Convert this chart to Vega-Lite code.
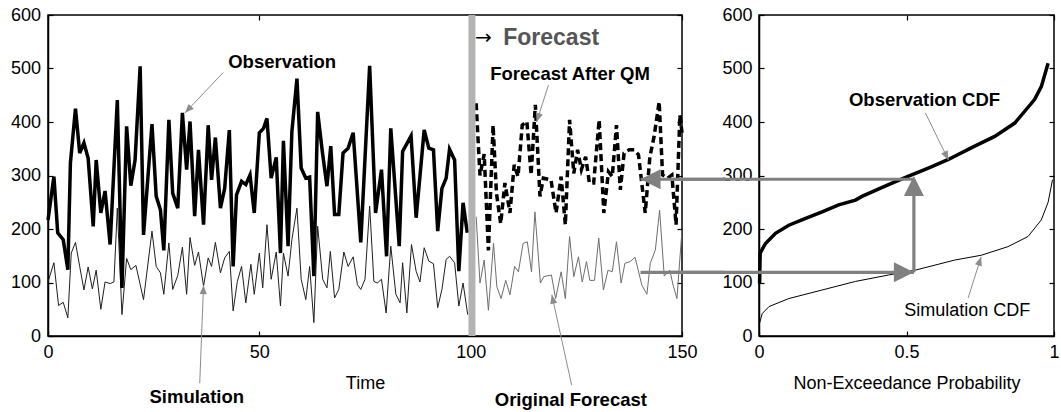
{
  "$schema": "https://vega.github.io/schema/vega-lite/v6.json",
  "background": "white",
  "padding": {"left": 9, "top": 5, "right": 0, "bottom": 0},
  "bounds": "flush",
  "spacing": 77,
  "config": {
    "view": {"stroke": "black", "strokeWidth": 1.5},
    "axis": {"domainColor": "black", "domainWidth": 1.5, "tickColor": "black", "tickWidth": 1.2, "tickSize": -5, "labelFont": "Liberation Sans", "labelFontSize": 18, "labelColor": "black", "titleFont": "Liberation Sans", "titleFontSize": 18, "titleFontWeight": "normal", "titleColor": "black", "grid": false, "labelFlush": false, "labelOverlap": false},
    "text": {"font": "Liberation Sans"}
  },
  "datasets": {
    "obs": [
      {"t":0,"v":217},{"t":1.4,"v":298},{"t":2.3,"v":193},{"t":3.6,"v":180},{"t":4.7,"v":124},{"t":5.3,"v":323},{"t":6.5,"v":425},{"t":7.5,"v":342},{"t":8.5,"v":361},{"t":9.5,"v":332},{"t":10.7,"v":205},{"t":11.4,"v":329},{"t":12.5,"v":230},{"t":13.5,"v":271},{"t":14.7,"v":171},{"t":16.4,"v":441},{"t":17.5,"v":90},{"t":18.6,"v":392},{"t":19.6,"v":281},{"t":20.6,"v":329},{"t":21.8,"v":504},{"t":22.6,"v":189},{"t":24.6,"v":396},{"t":25.6,"v":261},{"t":26.6,"v":236},{"t":27.4,"v":160},{"t":28.6,"v":404},{"t":29.5,"v":267},{"t":30.7,"v":239},{"t":31.8,"v":417},{"t":32.8,"v":311},{"t":33.6,"v":401},{"t":34.7,"v":224},{"t":35.6,"v":348},{"t":36.8,"v":208},{"t":37.9,"v":394},{"t":38.7,"v":292},{"t":39.6,"v":371},{"t":40.8,"v":239},{"t":41.8,"v":276},{"t":42.9,"v":385},{"t":43.8,"v":130},{"t":44.6,"v":264},{"t":45.8,"v":289},{"t":46.8,"v":283},{"t":47.8,"v":301},{"t":48.8,"v":230},{"t":50,"v":380},{"t":51,"v":388},{"t":51.8,"v":407},{"t":52.8,"v":295},{"t":54,"v":334},{"t":55,"v":155},{"t":55.7,"v":365},{"t":56.8,"v":168},{"t":57.7,"v":382},{"t":58.9,"v":481},{"t":59.9,"v":314},{"t":61,"v":295},{"t":61.9,"v":297},{"t":62.9,"v":112},{"t":63.8,"v":419},{"t":64.9,"v":345},{"t":66,"v":280},{"t":66.9,"v":355},{"t":67.8,"v":227},{"t":68.8,"v":227},{"t":69.8,"v":342},{"t":71,"v":351},{"t":72.2,"v":380},{"t":74,"v":175},{"t":76.1,"v":505},{"t":77.5,"v":230},{"t":78.9,"v":311},{"t":80.1,"v":149},{"t":81.1,"v":388},{"t":83.1,"v":168},{"t":83.9,"v":345},{"t":85.9,"v":374},{"t":87.1,"v":221},{"t":89,"v":385},{"t":90.1,"v":351},{"t":91.2,"v":348},{"t":92.2,"v":196},{"t":93.2,"v":276},{"t":94.2,"v":295},{"t":95,"v":349},{"t":96.2,"v":329},{"t":97.2,"v":121},{"t":98.2,"v":249},{"t":99.2,"v":193}
    ],
    "sim": [
      {"t":0,"v":101},{"t":1.4,"v":137},{"t":2.5,"v":57},{"t":3.6,"v":63},{"t":4.7,"v":34},{"t":5.5,"v":155},{"t":6.5,"v":175},{"t":7.5,"v":130},{"t":8.5,"v":86},{"t":9.5,"v":129},{"t":10.5,"v":88},{"t":11.4,"v":123},{"t":12.5,"v":50},{"t":13.5,"v":101},{"t":14.7,"v":98},{"t":15.6,"v":101},{"t":16.4,"v":239},{"t":17.5,"v":40},{"t":18.6,"v":145},{"t":19.6,"v":124},{"t":20.8,"v":132},{"t":22.6,"v":68},{"t":24.6,"v":196},{"t":25.6,"v":130},{"t":26.6,"v":118},{"t":27.4,"v":78},{"t":28.6,"v":174},{"t":29.5,"v":87},{"t":30.7,"v":113},{"t":31.8,"v":166},{"t":32.8,"v":78},{"t":33.6,"v":184},{"t":34.7,"v":132},{"t":35.6,"v":157},{"t":36.8,"v":93},{"t":37.9,"v":146},{"t":38.7,"v":130},{"t":39.6,"v":175},{"t":40.8,"v":118},{"t":41.8,"v":146},{"t":42.9,"v":158},{"t":43.8,"v":47},{"t":44.8,"v":102},{"t":45.8,"v":130},{"t":46.8,"v":62},{"t":48,"v":134},{"t":48.8,"v":78},{"t":50,"v":155},{"t":50.8,"v":90},{"t":51.8,"v":208},{"t":52.8,"v":106},{"t":54,"v":157},{"t":55,"v":56},{"t":55.7,"v":155},{"t":56.8,"v":112},{"t":57.7,"v":180},{"t":58.9,"v":239},{"t":59.9,"v":106},{"t":61,"v":68},{"t":61.9,"v":130},{"t":62.9,"v":25},{"t":63.8,"v":205},{"t":65,"v":106},{"t":66,"v":90},{"t":66.8,"v":158},{"t":67.8,"v":71},{"t":68.8,"v":87},{"t":70,"v":157},{"t":71,"v":130},{"t":72.2,"v":148},{"t":73.2,"v":96},{"t":74,"v":87},{"t":75,"v":106},{"t":76.1,"v":243},{"t":77.1,"v":102},{"t":77.9,"v":99},{"t":78.9,"v":106},{"t":80,"v":43},{"t":81.1,"v":168},{"t":82.3,"v":78},{"t":83.3,"v":62},{"t":83.9,"v":137},{"t":84.9,"v":43},{"t":86,"v":171},{"t":87.1,"v":121},{"t":88,"v":101},{"t":89,"v":165},{"t":90.1,"v":140},{"t":91.2,"v":135},{"t":92.2,"v":53},{"t":93.2,"v":87},{"t":94.2,"v":143},{"t":95,"v":149},{"t":96.2,"v":137},{"t":97.2,"v":56},{"t":98.2,"v":99},{"t":99.3,"v":40}
    ],
    "fc": [
      {"t":101.3,"v":223},{"t":102.2,"v":99},{"t":103.2,"v":142},{"t":104.2,"v":48},{"t":105.4,"v":173},{"t":106.2,"v":92},{"t":107.2,"v":70},{"t":108.3,"v":104},{"t":109.3,"v":77},{"t":110.4,"v":130},{"t":111.3,"v":120},{"t":112.4,"v":173},{"t":113.4,"v":176},{"t":114.4,"v":120},{"t":115.2,"v":232},{"t":116.5,"v":99},{"t":117.3,"v":111},{"t":119.1,"v":114},{"t":120.1,"v":70},{"t":121.4,"v":120},{"t":122.4,"v":70},{"t":123.4,"v":186},{"t":124.4,"v":111},{"t":125.5,"v":148},{"t":126.4,"v":101},{"t":127.4,"v":139},{"t":128.2,"v":104},{"t":129.3,"v":104},{"t":130.3,"v":183},{"t":131.4,"v":86},{"t":132.5,"v":123},{"t":133.5,"v":120},{"t":134.5,"v":176},{"t":135.6,"v":99},{"t":136.5,"v":136},{"t":137.7,"v":139},{"t":138.9,"v":147},{"t":140.5,"v":95},{"t":141.7,"v":78},{"t":142.5,"v":136},{"t":143.7,"v":161},{"t":144.7,"v":235},{"t":145.8,"v":112},{"t":147.1,"v":123},{"t":147.9,"v":95},{"t":148.8,"v":70},{"t":150,"v":198}
    ],
    "qm": [
      {"t":101.3,"v":435},{"t":102.2,"v":300},{"t":103.2,"v":340},{"t":104.2,"v":160},{"t":105.3,"v":394},{"t":106.1,"v":267},{"t":107.1,"v":210},{"t":108.1,"v":286},{"t":109.3,"v":230},{"t":110.3,"v":320},{"t":111.2,"v":298},{"t":112.2,"v":394},{"t":113.3,"v":401},{"t":114.3,"v":301},{"t":115.3,"v":432},{"t":116.4,"v":261},{"t":117.2,"v":295},{"t":119,"v":292},{"t":120.2,"v":230},{"t":121.4,"v":298},{"t":122.4,"v":208},{"t":123.4,"v":404},{"t":124.4,"v":304},{"t":125.3,"v":348},{"t":126.2,"v":311},{"t":127.2,"v":335},{"t":128.1,"v":286},{"t":129.1,"v":286},{"t":130.4,"v":404},{"t":131.5,"v":230},{"t":132.6,"v":307},{"t":133.5,"v":298},{"t":134.5,"v":394},{"t":135.4,"v":273},{"t":136.3,"v":342},{"t":137.5,"v":348},{"t":138.7,"v":348},{"t":139.7,"v":339},{"t":141.3,"v":230},{"t":142.4,"v":335},{"t":143.4,"v":373},{"t":144.6,"v":438},{"t":145.4,"v":301},{"t":146.6,"v":295},{"t":147.6,"v":301},{"t":148.6,"v":208},{"t":149.5,"v":413},{"t":150,"v":380}
    ],
    "ocdf": [
      {"p":0.002,"v":98},{"p":0.004,"v":155},{"p":0.022,"v":173},{"p":0.056,"v":192},{"p":0.101,"v":207},{"p":0.158,"v":220},{"p":0.214,"v":232},{"p":0.27,"v":245},{"p":0.327,"v":254},{"p":0.349,"v":261},{"p":0.439,"v":283},{"p":0.507,"v":299},{"p":0.574,"v":314},{"p":0.642,"v":330},{"p":0.721,"v":352},{"p":0.799,"v":373},{"p":0.867,"v":398},{"p":0.934,"v":442},{"p":0.957,"v":466},{"p":0.98,"v":510}
    ],
    "scdf": [
      {"p":0.002,"v":24},{"p":0.011,"v":42},{"p":0.034,"v":55},{"p":0.101,"v":70},{"p":0.214,"v":86},{"p":0.327,"v":102},{"p":0.439,"v":114},{"p":0.529,"v":123},{"p":0.664,"v":142},{"p":0.754,"v":151},{"p":0.844,"v":167},{"p":0.912,"v":186},{"p":0.957,"v":217},{"p":0.98,"v":250},{"p":0.995,"v":292}
    ]
  },
  "hconcat": [
    {
      "width": 634,
      "height": 321,
      "encoding": {
        "x": {"field": "t", "type": "quantitative", "scale": {"domain": [0, 150], "nice": false, "zero": false}, "axis": null},
        "y": {"field": "v", "type": "quantitative", "scale": {"domain": [0, 600], "nice": false}, "axis": null}
      },
      "resolve": {"axis": {"x": "independent", "y": "independent"}},
      "layer": [
        {"data": {"name": "sim"}, "mark": {"type": "line", "color": "#1e1e1e", "strokeWidth": 1}},
        {"data": {"name": "fc"}, "mark": {"type": "line", "color": "#6e6e6e", "strokeWidth": 1, "clip": true},
         "encoding": {
           "x": {"field": "t", "type": "quantitative", "scale": {"domain": [0, 150], "nice": false, "zero": false}, "axis": {"orient": "top", "values": [0, 50, 100, 150], "labels": false, "title": null, "domain": false}},
           "y": {"field": "v", "type": "quantitative", "scale": {"domain": [0, 600], "nice": false}, "axis": {"orient": "right", "values": [0, 100, 200, 300, 400, 500, 600], "labels": false, "title": null, "domain": false}}
         }},
        {"data": {"name": "obs"}, "mark": {"type": "line", "color": "black", "strokeWidth": 3.5},
         "encoding": {
           "x": {"field": "t", "type": "quantitative", "scale": {"domain": [0, 150], "nice": false, "zero": false}, "axis": {"orient": "bottom", "values": [0, 50, 100, 150], "title": "Time", "labelPadding": 12, "titlePadding": 13}},
           "y": {"field": "v", "type": "quantitative", "scale": {"domain": [0, 600], "nice": false}, "axis": {"orient": "left", "values": [0, 100, 200, 300, 400, 500, 600], "title": null, "labelPadding": 12.5}}
         }},
        {"data": {"name": "qm"}, "mark": {"type": "line", "color": "black", "strokeWidth": 3.5, "strokeDash": [7, 4]}},
        {"data": {"values": [{"t": 100.3, "v": 0, "v2": 600}]}, "mark": {"type": "rule", "color": "#b3b3b3", "strokeWidth": 7},
         "encoding": {"y2": {"field": "v2"}}},
        {"data": {"values": [{"t": 140.2, "t2": 160, "v": 119}, {"t": 140.2, "t2": 160, "v": 293}]}, "mark": {"type": "rule", "color": "#808080", "strokeWidth": 3.2},
         "encoding": {"x2": {"field": "t2"}}},
        {"data": {"values": [{"t": 140.2, "v": 293}]}, "mark": {"type": "point", "shape": "M0,0L-2,-1L-2,1Z", "size": 400, "filled": true, "color": "#808080", "opacity": 1, "angle": 180}},
        {"data": {"values": [{"t": 41.4, "v": 492, "t2": 32.4, "v2": 417}, {"t": 35.9, "v": -88, "t2": 36.8, "v2": 95}, {"t": 123.9, "v": -92, "t2": 119.2, "v2": 77}, {"t": 118.4, "v": 469, "t2": 115.6, "v2": 400}]},
         "mark": {"type": "rule", "color": "#8c8c8c", "strokeWidth": 1},
         "encoding": {"x2": {"field": "t2"}, "y2": {"field": "v2"}}},
        {"data": {"values": [{"t": 32.4, "v": 417}]}, "mark": {"type": "point", "shape": "M0,0L-2,-0.8L-2,0.8Z", "size": 81, "filled": true, "color": "#8c8c8c", "opacity": 1, "angle": 133.5}},
        {"data": {"values": [{"t": 36.8, "v": 95}]}, "mark": {"type": "point", "shape": "M0,0L-2,-0.8L-2,0.8Z", "size": 81, "filled": true, "color": "#8c8c8c", "opacity": 1, "angle": 272}},
        {"data": {"values": [{"t": 119.2, "v": 77}]}, "mark": {"type": "point", "shape": "M0,0L-2,-0.8L-2,0.8Z", "size": 81, "filled": true, "color": "#8c8c8c", "opacity": 1, "angle": 257.5}},
        {"data": {"values": [{"t": 115.6, "v": 400}]}, "mark": {"type": "point", "shape": "M0,0L-2,-0.8L-2,0.8Z", "size": 81, "filled": true, "color": "#8c8c8c", "opacity": 1, "angle": 108}},
        {"data": {"values": [{"t": 55.4, "v": 512, "label": "Observation"}, {"t": 35.2, "v": -114, "label": "Simulation"}, {"t": 123.7, "v": -120, "label": "Original Forecast"}, {"t": 123.5, "v": 490, "label": "Forecast After QM"}]},
         "mark": {"type": "text", "fontWeight": "bold", "fontSize": 18.5, "align": "center", "baseline": "middle", "color": "black"},
         "encoding": {"text": {"field": "label"}}},
        {"data": {"values": [{"t": 103, "v": 557, "label": "→"}]},
         "mark": {"type": "text", "fontSize": 20, "align": "center", "baseline": "middle", "color": "black", "font": "DejaVu Sans"},
         "encoding": {"text": {"field": "label"}}},
        {"data": {"values": [{"t": 107.7, "v": 557, "label": "Forecast"}]},
         "mark": {"type": "text", "fontSize": 23, "fontWeight": "bold", "align": "left", "baseline": "middle", "color": "#555555"},
         "encoding": {"text": {"field": "label"}}}
      ]
    },
    {
      "width": 295,
      "height": 321,
      "encoding": {
        "x": {"field": "p", "type": "quantitative", "scale": {"domain": [0, 1], "nice": false, "zero": false}, "axis": null},
        "y": {"field": "v", "type": "quantitative", "scale": {"domain": [0, 600], "nice": false}, "axis": null}
      },
      "resolve": {"axis": {"x": "independent", "y": "independent"}},
      "layer": [
        {"data": {"name": "scdf"}, "mark": {"type": "line", "color": "black", "strokeWidth": 1},
         "encoding": {
           "x": {"field": "p", "type": "quantitative", "scale": {"domain": [0, 1], "nice": false, "zero": false}, "axis": {"orient": "top", "values": [0, 0.5, 1], "labels": false, "title": null, "domain": false}},
           "y": {"field": "v", "type": "quantitative", "scale": {"domain": [0, 600], "nice": false}, "axis": {"orient": "right", "values": [0, 100, 200, 300, 400, 500, 600], "labels": false, "title": null, "domain": false}}
         }},
        {"data": {"name": "ocdf"}, "mark": {"type": "line", "color": "black", "strokeWidth": 3.5},
         "encoding": {
           "x": {"field": "p", "type": "quantitative", "scale": {"domain": [0, 1], "nice": false, "zero": false}, "axis": {"orient": "bottom", "values": [0, 0.5, 1], "labelExpr": "datum.value + ''", "title": "Non-Exceedance Probability", "labelPadding": 12, "titlePadding": 13}},
           "y": {"field": "v", "type": "quantitative", "scale": {"domain": [0, 600], "nice": false}, "axis": {"orient": "left", "values": [0, 100, 200, 300, 400, 500, 600], "title": null, "labelPadding": 12}}
         }},
        {"data": {"values": [{"p": -0.3, "p2": 0.525, "v": 119}, {"p": -0.3, "p2": 0.525, "v": 293}]}, "mark": {"type": "rule", "color": "#808080", "strokeWidth": 3.2},
         "encoding": {"x2": {"field": "p2"}}},
        {"data": {"values": [{"p": 0.525, "v": 119, "v2": 285}]}, "mark": {"type": "rule", "color": "#808080", "strokeWidth": 3.2},
         "encoding": {"y2": {"field": "v2"}}},
        {"data": {"values": [{"p": 0.525, "v": 119}]}, "mark": {"type": "point", "shape": "M0,0L-2,-1L-2,1Z", "size": 400, "filled": true, "color": "#808080", "opacity": 1, "angle": 0}},
        {"data": {"values": [{"p": 0.525, "v": 299}]}, "mark": {"type": "point", "shape": "M0,0L-2,-1L-2,1Z", "size": 400, "filled": true, "color": "#808080", "opacity": 1, "angle": 270}},
        {"data": {"values": [{"p": 0.564, "v": 417, "p2": 0.642, "v2": 329}, {"p": 0.709, "v": 71, "p2": 0.753, "v2": 148}]},
         "mark": {"type": "rule", "color": "#8c8c8c", "strokeWidth": 1},
         "encoding": {"x2": {"field": "p2"}, "y2": {"field": "v2"}}},
        {"data": {"values": [{"p": 0.642, "v": 329}]}, "mark": {"type": "point", "shape": "M0,0L-2,-0.8L-2,0.8Z", "size": 81, "filled": true, "color": "#8c8c8c", "opacity": 1, "angle": 64}},
        {"data": {"values": [{"p": 0.753, "v": 148}]}, "mark": {"type": "point", "shape": "M0,0L-2,-0.8L-2,0.8Z", "size": 81, "filled": true, "color": "#8c8c8c", "opacity": 1, "angle": 287.6}},
        {"data": {"values": [{"p": 0.561, "v": 442, "label": "Observation CDF"}]},
         "mark": {"type": "text", "fontWeight": "bold", "fontSize": 18.5, "align": "center", "baseline": "middle", "color": "black"},
         "encoding": {"text": {"field": "label"}}},
        {"data": {"values": [{"p": 0.706, "v": 47, "label": "Simulation CDF"}]},
         "mark": {"type": "text", "fontSize": 18, "align": "center", "baseline": "middle", "color": "black"},
         "encoding": {"text": {"field": "label"}}}
      ]
    }
  ]
}
